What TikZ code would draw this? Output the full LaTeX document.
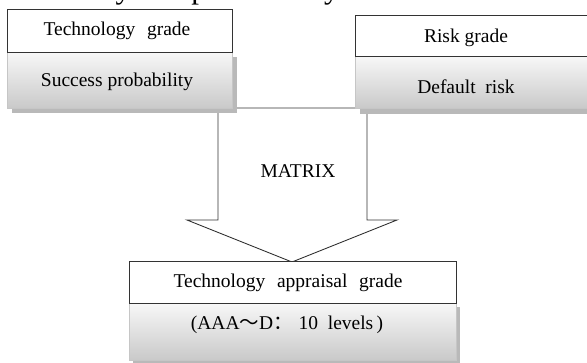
\documentclass[tikz,border=0pt]{standalone}
\usepackage{fontspec}
\setmainfont{Liberation Serif}
\newfontfamily\cjkfont{Noto Sans CJK SC}
\begin{document}
\begin{tikzpicture}[x=1pt,y=-1pt,
  line/.style={draw=black!80,line width=0.9pt},
  whitebox/.style={line,fill=white,inner sep=0pt},
  graybox/.style={draw=gray!45,line width=0.6pt,top color=gray!6,bottom color=gray!42,inner sep=0pt},
  shadowbox/.style={fill=gray!55,draw=none,inner sep=0pt},
  label/.style={inner sep=0pt,font=\fontsize{19.5}{22}\selectfont}]
\useasboundingbox (0,0) rectangle (587,363);
\clip (0,0) rectangle (587,363);

% tail of the preceding paragraph line
\node[anchor=base west,inner sep=0pt,font=\fontsize{31}{34}\selectfont] (prev) at (7,-1.5) {feasibility and profitability.};

% block arrow from the two grades down to the appraisal grade
\coordinate (al) at (218,108);
\coordinate (ar) at (367,108);
\coordinate (tip) at (292,262);
\draw[line,fill=white,line join=miter] (al) -- (ar) -- (367,220) -- (397,220) -- (tip) -- (187,220) -- (218,220) -- cycle;
\node[label] (mx) at (298,171) {MATRIX};

% technology grade (left)
\node[shadowbox,minimum width=225,minimum height=56] (tgs) at (124.5,85) {};
\node[graybox,minimum width=225,minimum height=56] (sp) at (119.5,80) {};
\node[whitebox,minimum width=225,minimum height=43] (tg) at (119.5,30.5) {};
\node[label] (tgt) at (117,31) {Technology\hspace{0.6em}grade};
\node[label] (spt) at (117,82) {Success probability};

% risk grade (right)
\node[shadowbox,minimum width=245,minimum height=54] (rgs) at (482.5,87) {};
\node[graybox,minimum width=245,minimum height=52] (dr) at (477.5,82) {};
\node[whitebox,minimum width=245,minimum height=41] (rg) at (477.5,35.5) {};
\node[label] (rgt) at (466,38) {Risk grade};
\node[label] (drt) at (466,87) {Default\hspace{0.5em}risk};

% technology appraisal grade (bottom)
\node[shadowbox,minimum width=327,minimum height=57] (lvs) at (296.5,336) {};
\node[graybox,minimum width=327,minimum height=57] (lv) at (292.5,331.5) {};
\node[whitebox,minimum width=327,minimum height=42] (tag) at (292.5,282) {};
\node[label] (tagt) at (288,283) {Technology\hspace{0.6em}appraisal\hspace{0.6em}grade};
\node[label] (lvt) at (287,325) {(AAA{\cjkfont ～}D{\cjkfont ：}\hspace{0.3em}10\hspace{0.5em}levels\,)};
\end{tikzpicture}
\end{document}
